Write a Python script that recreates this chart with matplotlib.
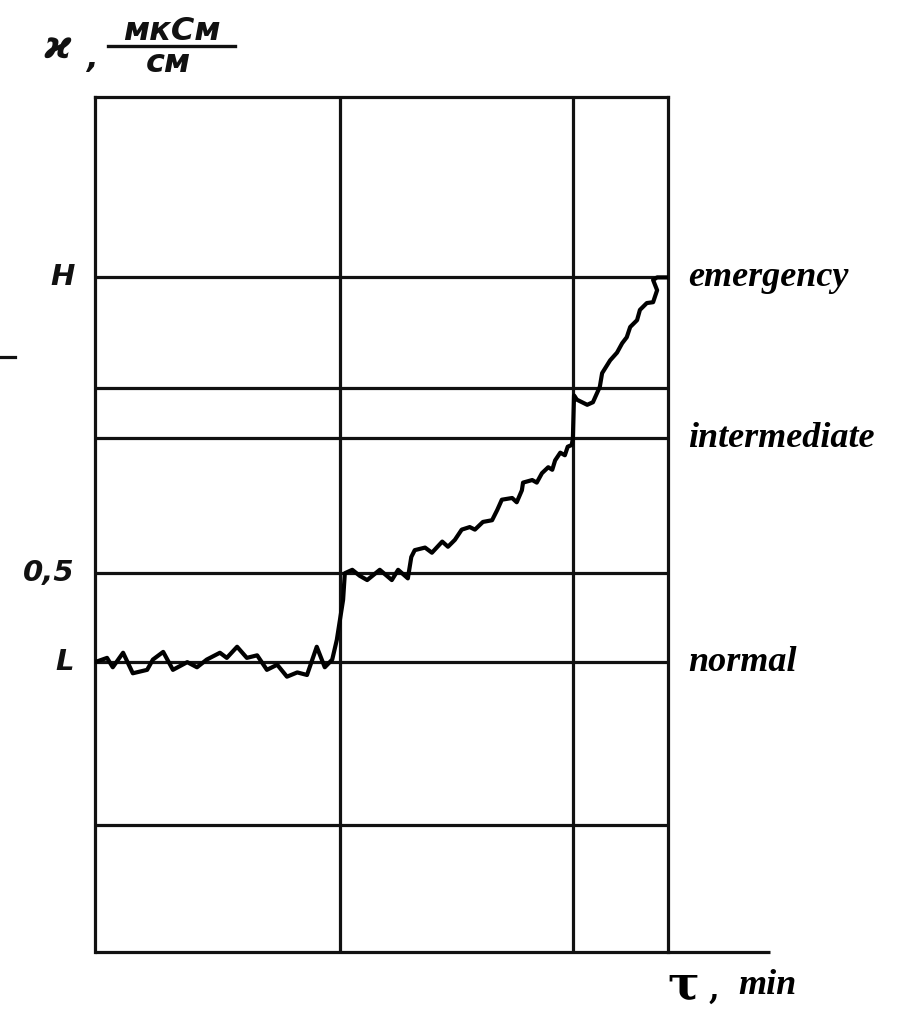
import matplotlib
matplotlib.use("Agg")
import matplotlib.pyplot as plt
from matplotlib.lines import Line2D

# ---- data (chart units: time 0..100 across the frame, conductivity 0..100 up the frame) ----
time_vals = [0.0, 2.1, 3.1, 4.9, 6.6, 9.1, 10.1, 11.9, 13.6, 16.1, 17.8, 19.5, 21.8, 23.0,
             24.8, 26.5, 28.3, 30.0, 31.8, 33.5, 35.3, 37.0, 38.7, 40.1, 41.4, 42.2, 43.3,
             43.6, 44.9, 46.2, 47.5, 49.7, 51.8, 52.9, 54.6, 55.2,
             55.8, 57.6, 58.8, 60.6, 61.6, 62.8, 64.0, 65.4, 66.3, 67.7, 69.3, 70.2, 71.0,
             72.8, 73.6, 74.5, 74.7, 76.3, 77.1, 78.0, 79.1, 79.8, 80.3, 81.2, 82.0, 82.5,
             83.2, 83.4,
             83.6, 84.1, 85.9, 86.9, 88.1, 88.5, 89.9, 91.1, 92.0, 92.8, 93.4, 94.6,
             95.1, 96.3, 97.4, 98.1, 97.4, 98.1, 100.0]
cond_vals = [33.9, 34.4, 33.3, 35.0, 32.6, 33.0, 34.2, 35.1, 33.0, 33.9, 33.3, 34.2, 35.0, 34.4,
             35.7, 34.4, 34.7, 33.0, 33.6, 32.2, 32.7, 32.4, 35.7, 33.3, 34.2, 36.5, 41.2,
             44.3, 44.7, 44.0, 43.5, 44.7, 43.5, 44.7, 43.7, 46.2,
             47.0, 47.3, 46.7, 48.0, 47.4, 48.2, 49.4, 49.7, 49.4, 50.3, 50.5, 51.7, 52.9,
             53.1, 52.6, 54.0, 54.9, 55.2, 54.9, 56.0, 56.7, 56.4, 57.5, 58.4, 58.1, 59.1,
             59.3, 60.1,
             65.1, 64.6, 64.0, 64.3, 66.1, 67.7, 69.2, 70.1, 71.2, 71.9, 73.1, 73.9,
             75.1, 75.9, 76.0, 77.4, 78.6, 78.9, 78.9]

h_levels = [78.9, 66.0, 60.1, 44.3, 33.9, 14.9]        # horizontal grid lines
v_levels = [42.8, 83.4]                                 # vertical grid lines
y_tick_vals = [78.9, 44.3, 33.9]
y_tick_labels = ["H", "0,5", "L"]
state_vals = [78.9, 60.1, 33.9]
state_labels = ["emergency", "intermediate", "normal"]

W, H = 901, 1010
fig = plt.figure(figsize=(W / 100, H / 100), dpi=100)
fig.patch.set_facecolor("white")

x0, x1, ytop, ybot = 95, 668, 97, 952
ax = fig.add_axes([x0 / W, (H - ybot) / H, (x1 - x0) / W, (ybot - ytop) / H])
ax.set_xlim(0, 100)
ax.set_ylim(0, 100)
ax.set_xticks([])
ax.set_yticks([])
ink = "#111111"
lw = 2.3
for s in ["left", "top", "right"]:
    ax.spines[s].set_linewidth(lw)
    ax.spines[s].set_color(ink)
ax.spines["bottom"].set_visible(False)

# extended bottom axis
ax.plot([0, 117.8], [0, 0], color=ink, lw=lw, clip_on=False, solid_capstyle="butt")

for y in h_levels:
    ax.axhline(y, color=ink, lw=lw)
for x in v_levels:
    ax.axvline(x, color=ink, lw=lw)

ax.plot(time_vals, cond_vals, color="black", lw=3.0, solid_joinstyle="round",
        solid_capstyle="round", zorder=5)

# stray mark at the left edge
ax.plot([-16.6, -14.0], [69.6, 69.6], color=ink, lw=2.3, clip_on=False)

# y labels (hand lettered look)
hand = dict(family="DejaVu Sans", style="italic", fontweight="bold", color=ink)
for v, lab in zip(y_tick_vals, y_tick_labels):
    ax.text(-3.6, v, lab, ha="right", va="center", fontsize=21, transform=ax.transData,
            clip_on=False, **hand)

# state labels on right
serif = dict(family="Liberation Serif", style="italic", fontweight="bold", color="black")
for v, lab in zip(state_vals, state_labels):
    ax.text(103.5, v, lab, ha="left", va="center", fontsize=26, clip_on=False, **serif)

# y-axis unit label
fig.text(44 / W, 1 - 47 / H, "ϰ", ha="left", va="center", fontsize=27, **hand)
fig.text(86 / W, 1 - 60 / H, ",", ha="left", va="center", fontsize=22, **hand)
fig.text(172 / W, 1 - 31 / H, "мкСм", ha="center", va="center", fontsize=23, **hand)
fig.text(168 / W, 1 - 64 / H, "см", ha="center", va="center", fontsize=23, **hand)
fig.add_artist(Line2D([108 / W, 235 / W], [1 - 46 / H, 1 - 46 / H], color=ink, lw=2.4))

# x-axis label
fig.text(683 / W, 1 - 986 / H, "τ", ha="center", va="center", fontsize=34,
         family="DejaVu Serif", fontweight="bold", color="black")
fig.text(714 / W, 1 - 990 / H, ",", ha="center", va="center", fontsize=22,
         family="DejaVu Serif", fontweight="bold", color="black")
fig.text(738 / W, 1 - 986 / H, "min", ha="left", va="center", fontsize=26, **serif)

fig.savefig("out.png", dpi=100, facecolor="white")
